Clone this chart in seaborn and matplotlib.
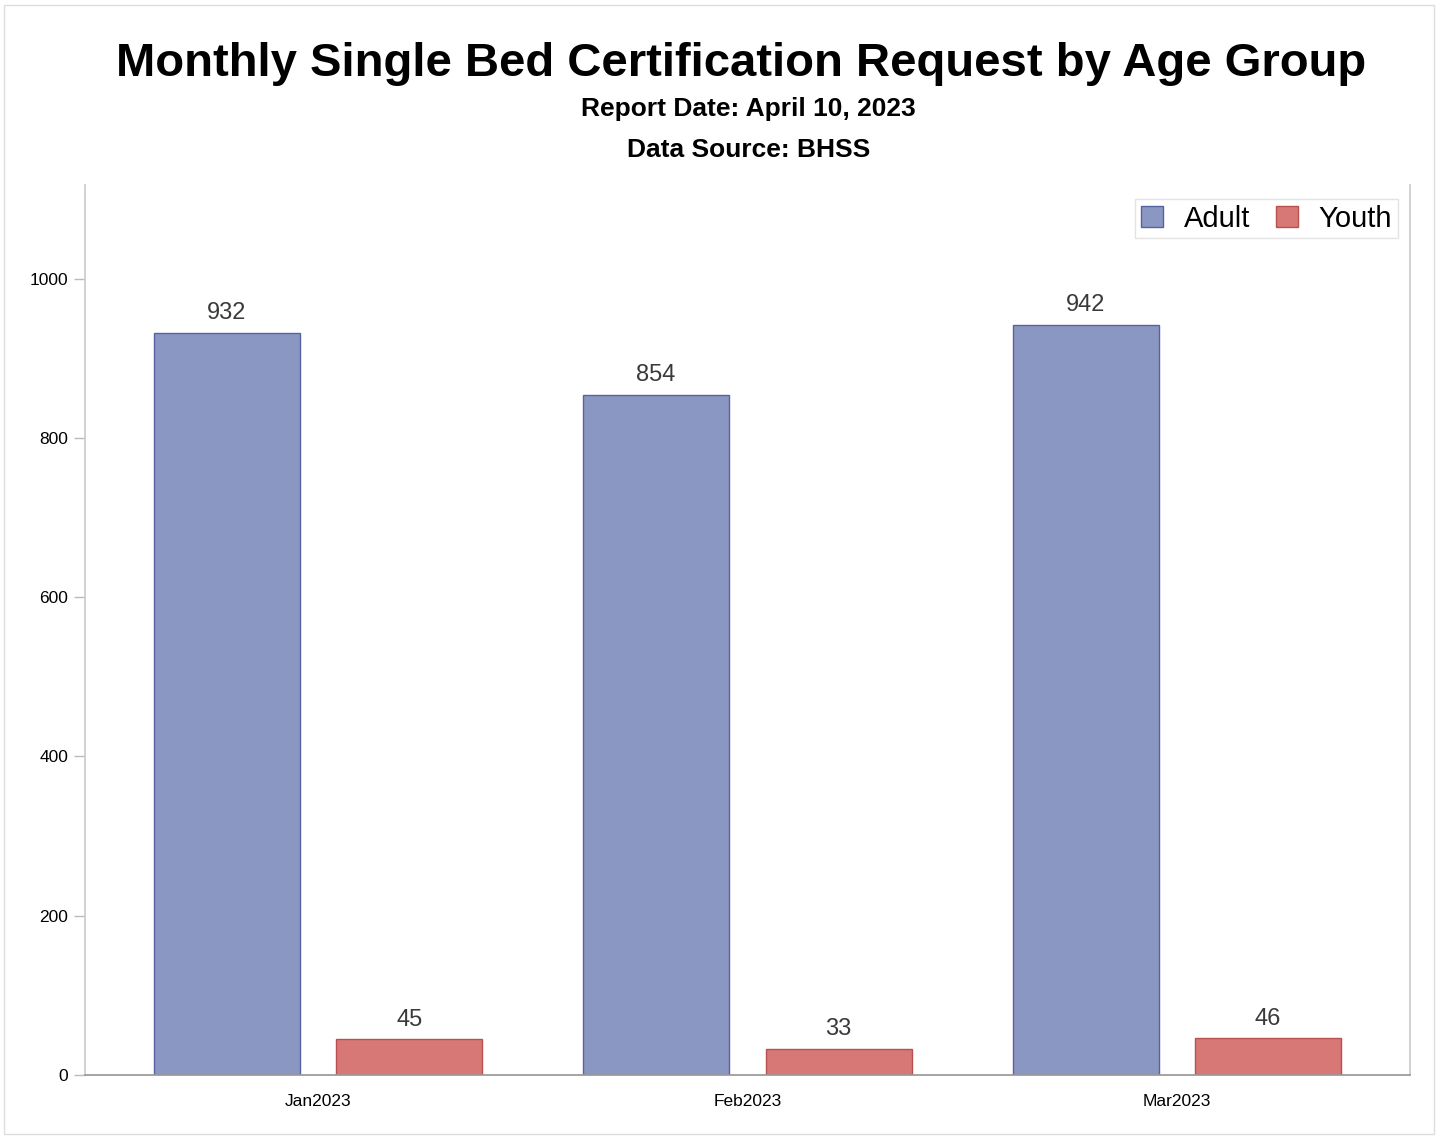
import seaborn as sns
import matplotlib.pyplot as plt
import pandas as pd

months = ["Jan2023", "Feb2023", "Mar2023"]
adult = [932, 854, 942]
youth = [45, 33, 46]
groups = ["Adult", "Youth"]


def main():
    sns.set_theme(style="white")
    plt.rcParams["font.family"] = ["Liberation Sans", "DejaVu Sans"]
    plt.rcParams["text.color"] = "black"
    plt.rcParams["xtick.color"] = "black"
    plt.rcParams["ytick.color"] = "black"

    df = pd.DataFrame({
        "month": months * 2,
        "count": adult + youth,
        "group": [groups[0]] * len(months) + [groups[1]] * len(months),
    })

    fig = plt.figure(figsize=(14.4, 11.37), dpi=100)
    ax = fig.add_axes([0.059, 0.0545, 0.92, 0.7825])

    palette = {"Adult": "#8b97c3", "Youth": "#d87876"}
    edges = {"Adult": "#5564a0", "Youth": "#b8504e"}
    sns.barplot(ax=ax, data=df, x="month", y="count", hue="group",
                palette=palette, width=0.85, gap=0.2, saturation=1,
                linewidth=1)

    for container, grp in zip(ax.containers, groups):
        for bar in container:
            bar.set_edgecolor(edges[grp])
        ax.bar_label(container, padding=6, fontsize=17, color="#3a3a3a")

    ax.set_ylim(0, 1117)
    ax.set_xlim(-0.5425, 2.5425)
    ax.set_yticks([0, 200, 400, 600, 800, 1000])
    ax.set_xlabel("")
    ax.set_ylabel("")
    ax.tick_params(axis="y", which="both", left=True, length=8, width=1,
                   color="#bbbbbb", labelcolor="black", labelsize=12.5, pad=4)
    ax.tick_params(axis="x", bottom=False, labelcolor="black",
                   labelsize=12.5, pad=8)

    ax.spines["top"].set_visible(False)
    ax.spines["left"].set_color("#cccccc")
    ax.spines["right"].set_color("#cccccc")
    ax.spines["bottom"].set_color("#999999")

    leg = ax.legend(loc="upper right", bbox_to_anchor=(0.991, 0.985),
                    fontsize=21, frameon=True, fancybox=False, ncol=2,
                    handlelength=0.75, handleheight=0.75, columnspacing=0.9,
                    handletextpad=0.7, borderpad=0.2, borderaxespad=0,
                    title=None)
    leg.get_frame().set_edgecolor("#dddddd")
    leg.get_frame().set_linewidth(1)
    for t in leg.get_texts():
        t.set_color("black")
    for h, grp in zip(leg.legend_handles, groups):
        h.set_edgecolor(edges[grp])
        h.set_linewidth(1)

    fig.text(0.515, 0.944, "Monthly Single Bed Certification Request by Age Group",
             ha="center", va="center", fontsize=34, fontweight="bold",
             color="black")
    fig.text(0.52, 0.904, "Report Date: April 10, 2023",
             ha="center", va="center", fontsize=19, fontweight="bold",
             color="black")
    fig.text(0.52, 0.868, "Data Source: BHSS",
             ha="center", va="center", fontsize=19, fontweight="bold",
             color="black")

    fig.patches.append(plt.Rectangle((0.003, 0.003), 0.993, 0.993,
                                     transform=fig.transFigure, fill=False,
                                     edgecolor="#dddddd", linewidth=1))

    fig.savefig("out.png", dpi=100)


if __name__ == "__main__":
    main()
